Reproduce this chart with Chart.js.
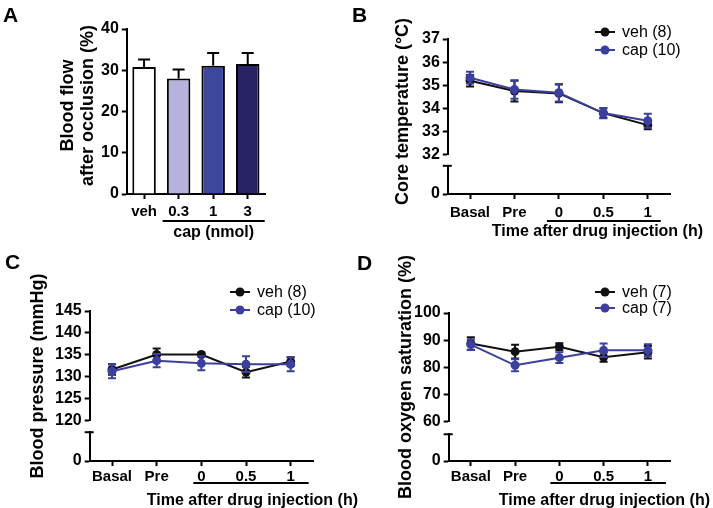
<!DOCTYPE html>
<html>
<head>
<meta charset="utf-8">
<script src="https://cdn.jsdelivr.net/npm/chart.js@4"></script>
<style>
  body { margin: 0; background: #fff; width: 713px; height: 508px; position: relative; overflow: hidden; }
  canvas { position: absolute; left: 0; top: 0; }
</style>
</head>
<body>
<canvas id="panelA" width="713" height="508"></canvas>
<canvas id="panelB" width="713" height="508"></canvas>
<canvas id="panelC" width="713" height="508"></canvas>
<canvas id="panelD" width="713" height="508"></canvas>
<script>
// panel A: blood flow after occlusion
const doseLabels = ['veh', '0.3', '1', '3'];
const flowMean = [30.8, 28.0, 31.1, 31.5];
const flowSem = [1.8, 2.2, 3.1, 2.7];
const doseColors = ['#ffffff', '#b5b3dc', '#3d489d', '#282463'];

// panels B-D share the time points
const timeLabels = ['Basal', 'Pre', '0', '0.5', '1'];

const tempVeh = [35.2, 34.75, 34.65, 33.8, 33.28];
const tempVehSem = [0.25, 0.45, 0.38, 0.2, 0.18];
const tempCap = [35.33, 34.82, 34.68, 33.8, 33.47];
const tempCapSem = [0.25, 0.4, 0.38, 0.22, 0.3];

const bpVeh = [131.7, 135.1, 135.1, 131.1, 133.5];
const bpVehSem = [1.2, 1.4, 0.4, 1.2, 1.0];
const bpCap = [131.3, 133.7, 133.1, 132.9, 132.9];
const bpCapSem = [1.6, 1.5, 1.6, 1.8, 1.6];

const oxVeh = [88.8, 85.8, 87.6, 83.8, 85.6];
const oxVehSem = [2.3, 2.5, 1.3, 1.7, 2.3];
const oxCap = [88.4, 80.8, 83.6, 86.3, 86.3];
const oxCapSem = [2.0, 2.2, 2.0, 2.5, 2.2];

const VEH = '#111111';
const CAP = '#3d3f9f';
const FONT = '"Liberation Sans", Arial, sans-serif';

Chart.defaults.font.family = FONT;
Chart.defaults.color = '#000';
Chart.defaults.animation = false;
Chart.defaults.plugins.legend.display = false;
Chart.defaults.plugins.tooltip.enabled = false;

// error bars, panel letters, titles, underline and legend
const deco = {
  id: 'deco',
  afterDatasetDraw(chart, args) {
    const ds = chart.data.datasets[args.index];
    if (!ds.err) return;
    const ys = chart.scales[args.meta.yAxisID];
    const ctx = chart.ctx;
    const w = ds.capW || 4;
    ctx.save();
    ctx.strokeStyle = ds.errColor || ds.borderColor;
    ctx.lineWidth = 2;
    args.meta.data.forEach((el, i) => {
      const x = el.x;
      const hi = ys.getPixelForValue(ds.data[i] + ds.err[i]);
      const lo = ds.upOnly ? ys.getPixelForValue(ds.data[i]) : ys.getPixelForValue(ds.data[i] - ds.err[i]);
      ctx.beginPath();
      ctx.moveTo(x, lo); ctx.lineTo(x, hi);
      ctx.moveTo(x - w, hi); ctx.lineTo(x + w, hi);
      if (!ds.upOnly) { ctx.moveTo(x - w, lo); ctx.lineTo(x + w, lo); }
      ctx.stroke();
    });
    ctx.restore();
  },
  afterDraw(chart, args, o) {
    const ctx = chart.ctx, a = chart.chartArea, xs = chart.scales.x;
    ctx.save();
    ctx.fillStyle = '#000';
    ctx.strokeStyle = '#000';

    ctx.font = 'bold 21px ' + FONT;
    ctx.textAlign = 'left';
    ctx.textBaseline = 'top';
    ctx.fillText(o.letter[0], o.letter[1], o.letter[2]);

    // cap on top of the lower axis segment
    const y0 = chart.scales.y0;
    if (y0) {
      const cy0 = y0.getPixelForValue(1);
      ctx.lineWidth = 2;
      ctx.beginPath();
      ctx.moveTo(a.left - 5, cy0); ctx.lineTo(a.left + 4, cy0);
      ctx.stroke();
    }

    ctx.font = 'bold 18px ' + FONT;
    ctx.textAlign = 'center';
    ctx.textBaseline = 'middle';
    const cy = (a.top + a.bottom) / 2 + o.yShift;
    o.yTitle.forEach((t, k) => {
      ctx.save();
      ctx.translate(a.left - o.yGap[k], cy);
      ctx.rotate(-Math.PI / 2);
      ctx.fillText(t, 0, 0);
      ctx.restore();
    });

    const x1 = xs.getPixelForValue(o.lineFrom) - o.lineL;
    const x2 = xs.getPixelForValue(xs.max) + o.lineR;
    const ly = a.bottom + o.lineY;
    ctx.lineWidth = 2;
    ctx.beginPath();
    ctx.moveTo(x1, ly); ctx.lineTo(x2, ly);
    ctx.stroke();

    ctx.font = 'bold 16px ' + FONT;
    if (o.xTitleCenter) {
      ctx.textAlign = 'center';
      ctx.fillText(o.xTitle, (x1 + x2) / 2, a.bottom + o.xTitleY);
    } else {
      ctx.textAlign = 'right';
      ctx.fillText(o.xTitle, a.right + o.xTitleR, a.bottom + o.xTitleY);
    }

    if (o.legend) {
      ctx.font = '16px ' + FONT;
      ctx.textAlign = 'left';
      chart.data.datasets.forEach((ds, k) => {
        const lx = a.right + o.legend[0];
        const y = a.top + o.legend[1] + k * o.legend[2];
        ctx.strokeStyle = ds.borderColor;
        ctx.fillStyle = ds.borderColor;
        ctx.lineWidth = 2;
        ctx.beginPath();
        ctx.moveTo(lx, y); ctx.lineTo(lx + 20, y);
        ctx.stroke();
        ctx.beginPath();
        ctx.arc(lx + 10, y, 4.5, 0, Math.PI * 2);
        ctx.fill();
        ctx.fillStyle = '#000';
        ctx.fillText(ds.label, lx + 27, y + 1);
      });
    }
    ctx.restore();
  }
};

function yAxis(min, max, step, extra) {
  return Object.assign({
    type: 'linear', position: 'left', min: min, max: max,
    border: { display: true, color: '#000', width: 2 },
    grid: { display: true, drawOnChartArea: false, drawTicks: true, tickLength: 5, tickWidth: 2, tickColor: '#000' },
    ticks: { stepSize: step, autoSkip: false, padding: 3, font: { size: 16, weight: 'bold' } }
  }, extra || {});
}

// the chart stacks these bottom-up, so the 0 segment comes first
function brokenY(min, max, step, weights) {
  return {
    y0: yAxis(0, 1, 1, {
      stack: 'v', stackWeight: weights[2],
      afterBuildTicks: s => { s.ticks = [{ value: 0 }, { value: 1 }]; },
      ticks: { padding: 3, font: { size: 16, weight: 'bold' }, callback: v => v === 0 ? '0' : '' }
    }),
    yGap: {
      type: 'linear', position: 'left', stack: 'v', stackWeight: weights[1], min: 0, max: 1,
      border: { display: false }, grid: { display: false }, ticks: { display: false }
    },
    y: yAxis(min, max, step, { stack: 'v', stackWeight: weights[0] })
  };
}

function xAxis(pad) {
  return {
    type: 'category', offset: true,
    border: { display: true, color: '#000', width: 2 },
    grid: { display: true, offset: false, drawOnChartArea: false, drawTicks: true, tickLength: 5, tickWidth: 2, tickColor: '#000' },
    ticks: { padding: pad, autoSkip: false, maxRotation: 0, font: { size: 15, weight: 'bold' } }
  };
}

function series(label, data, err, color, order) {
  return {
    label: label, data: data, err: err, yAxisID: 'y', order: order,
    borderColor: color, backgroundColor: color,
    pointBackgroundColor: color, pointBorderColor: color,
    pointRadius: 4.5, pointBorderWidth: 0, borderWidth: 2, tension: 0
  };
}

new Chart(document.getElementById('panelA'), {
  type: 'bar',
  data: {
    labels: doseLabels,
    datasets: [{
      data: flowMean, err: flowSem, upOnly: true, errColor: '#000', capW: 6,
      backgroundColor: doseColors, borderColor: '#000', borderWidth: 2,
      categoryPercentage: 1, barPercentage: 0.68
    }]
  },
  options: {
    responsive: false,
    layout: { padding: { left: 98, right: 448, top: 29, bottom: 283 } },
    scales: { x: xAxis(4), y: yAxis(0, 40, 10) },
    plugins: {
      deco: {
        letter: ['A', 3, 6], yTitle: ['Blood flow', 'after occlusion (%)'], yGap: [59, 39], yShift: -6,
        lineFrom: 1, lineL: 16, lineR: 17, lineY: 27,
        xTitle: 'cap (nmol)', xTitleCenter: true, xTitleY: 39
      }
    }
  },
  plugins: [deco]
});

new Chart(document.getElementById('panelB'), {
  type: 'line',
  data: {
    labels: timeLabels,
    datasets: [
      series('veh (8)', tempVeh, tempVehSem, VEH, 1),
      series('cap (10)', tempCap, tempCapSem, CAP, 0)
    ]
  },
  options: {
    responsive: false,
    layout: { padding: { left: 419, right: 43, top: 39, bottom: 281 } },
    scales: Object.assign({ x: xAxis(5) }, brokenY(32, 37, 1, [115, 11, 28])),
    plugins: {
      deco: {
        letter: ['B', 352, 6], yTitle: ['Core temperature (°C)'], yGap: [45], yShift: -5,
        lineFrom: 2, lineL: 12, lineR: 13, lineY: 27,
        xTitle: 'Time after drug injection (h)', xTitleR: 33, xTitleY: 38,
        legend: [-75, -7, 18]
      }
    }
  },
  plugins: [deco]
});

new Chart(document.getElementById('panelC'), {
  type: 'line',
  data: {
    labels: timeLabels,
    datasets: [
      series('veh (8)', bpVeh, bpVehSem, VEH, 1),
      series('cap (10)', bpCap, bpCapSem, CAP, 0)
    ]
  },
  options: {
    responsive: false,
    layout: { padding: { left: 52, right: 400, top: 311, bottom: 20 } },
    scales: Object.assign({ x: xAxis(2) }, brokenY(120, 145, 5, [107, 11, 28])),
    plugins: {
      deco: {
        letter: ['C', 5, 253], yTitle: ['Blood pressure (mmHg)'], yGap: [52], yShift: -10,
        lineFrom: 2, lineL: 8, lineR: 18, lineY: 22,
        xTitle: 'Time after drug injection (h)', xTitleR: 45, xTitleY: 40,
        legend: [-83, -19, 18]
      }
    }
  },
  plugins: [deco]
});

new Chart(document.getElementById('panelD'), {
  type: 'line',
  data: {
    labels: timeLabels,
    datasets: [
      series('veh (7)', oxVeh, oxVehSem, VEH, 1),
      series('cap (7)', oxCap, oxCapSem, CAP, 0)
    ]
  },
  options: {
    responsive: false,
    layout: { padding: { left: 411, right: 43, top: 313, bottom: 20 } },
    scales: Object.assign({ x: xAxis(2) }, brokenY(60, 100, 10, [106, 12, 26])),
    plugins: {
      deco: {
        letter: ['D', 357, 254], yTitle: ['Blood oxygen saturation (%)'], yGap: [43], yShift: -10,
        lineFrom: 2, lineL: 9, lineR: 18, lineY: 22,
        xTitle: 'Time after drug injection (h)', xTitleR: 40, xTitleY: 40,
        legend: [-75, -21, 16]
      }
    }
  },
  plugins: [deco]
});
</script>
</body>
</html>
